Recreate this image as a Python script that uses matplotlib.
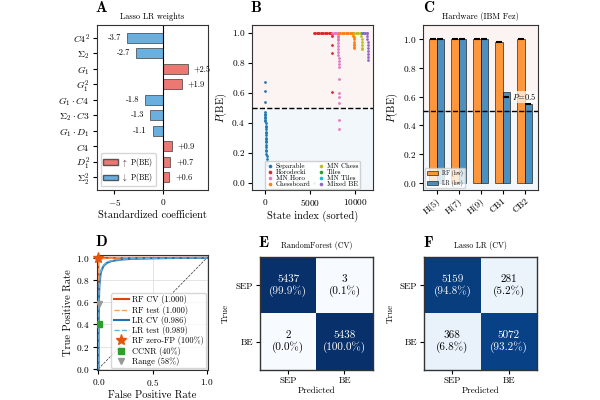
import matplotlib
matplotlib.use("Agg")
import matplotlib.pyplot as plt
from matplotlib.patches import Patch

# fonts: computer modern look
plt.rcParams['font.family'] = ['cmr10', 'DejaVu Serif']
plt.rcParams['mathtext.fontset'] = 'cm'
plt.rcParams['axes.formatter.use_mathtext'] = True
plt.rcParams['font.size'] = 7
plt.rcParams['xtick.labelsize'] = 6.7
plt.rcParams['ytick.labelsize'] = 6.7
plt.rcParams['xtick.major.size'] = 3
plt.rcParams['ytick.major.size'] = 3
plt.rcParams['xtick.major.pad'] = 2
plt.rcParams['ytick.major.pad'] = 2
plt.rcParams['axes.labelsize'] = 7.5
plt.rcParams['axes.labelpad'] = 2
plt.rcParams['axes.edgecolor'] = '0.2'

# ---- Panel A data: Lasso LR weights ----
features = [r"$C4^2$", r"$\Sigma_2$", r"$G_1$", r"$G_1^2$", r"$G_1\cdot C4$",
            r"$\Sigma_2\cdot C3$", r"$G_1\cdot D_1$", r"$C4$", r"$D_1^2$", r"$\Sigma_2^2$"]
coefs = [-3.72, -2.74, 2.54, 1.93, -1.82, -1.32, -1.08, 0.92, 0.74, 0.63]

# ---- Panel B data: sorted P(BE) per family ----
sep_x = [5, 10, 15, 20, 25, 30, 35, 40, 45, 50, 55, 60, 65, 70, 75, 80, 85, 90, 95, 100,
         110, 120, 130, 140, 150, 160, 170, 180, 190, 200, 400, 800, 1500, 2500, 3500, 4500, 5400]
sep_p = [0.67, 0.61, 0.54, 0.47, 0.46, 0.45, 0.44, 0.43, 0.42, 0.41, 0.40, 0.38, 0.37, 0.36,
         0.34, 0.33, 0.32, 0.30, 0.29, 0.28, 0.27, 0.25, 0.24, 0.22, 0.21, 0.19, 0.18, 0.16,
         0.14, 0.12, 0.08, 0.05, 0.03, 0.02, 0.01, 0.005, 0.0]
horo_x = [5440, 5590, 5740, 5890, 6040, 6190, 6340, 6490, 6640, 6790, 6940, 7090, 7240, 7360,
          7400, 7420, 7430, 7440, 7450]
horo_p = [1.0, 1.0, 1.0, 1.0, 1.0, 1.0, 1.0, 1.0, 1.0, 1.0, 1.0, 1.0, 1.0, 1.0,
          0.99, 0.98, 0.915, 0.864, 0.605]
mnhoro_x = [7460, 7610, 7760, 7910, 8060, 8100, 8110, 8120, 8125, 8130, 8135, 8140, 8145, 8150,
            8155, 8160, 8165, 8170, 8175, 8180, 8185, 8190, 8195, 8200, 8205, 8210]
mnhoro_p = [1.0, 1.0, 1.0, 1.0, 1.0, 0.995, 0.99, 0.98, 0.97, 0.96, 0.95, 0.93, 0.91, 0.89,
            0.87, 0.85, 0.83, 0.81, 0.79, 0.77, 0.69, 0.60, 0.57, 0.53, 0.42, 0.36]
chess_x = [8220, 8370, 8520, 8670, 8820, 8970, 9120, 9270, 9420, 9570, 9700,
           9760, 9800, 9830, 9850, 9865, 9875, 9885, 9890, 9895, 9900]
chess_p = [1.0, 1.0, 1.0, 1.0, 1.0, 1.0, 1.0, 1.0, 1.0, 1.0, 1.0,
           0.998, 0.99, 0.98, 0.97, 0.955, 0.94, 0.925, 0.915, 0.905, 0.90]
mnchess_x = [9910, 10060, 10210, 10360, 10510, 10640, 10690, 10710, 10720, 10730, 10735, 10740, 10745]
mnchess_p = [1.0, 1.0, 1.0, 1.0, 1.0, 1.0, 0.995, 0.98, 0.96, 0.94, 0.92, 0.90, 0.89]
tiles_x = [10760, 10790]
tiles_p = [1.0, 1.0]
mntiles_x = [10800, 10830]
mntiles_p = [1.0, 1.0]
mixed_x = [10850, 11000, 11150, 11300, 11350, 11370, 11385, 11395, 11405, 11410, 11415, 11420, 11425, 11430]
mixed_p = [1.0, 1.0, 1.0, 1.0, 0.995, 0.98, 0.96, 0.94, 0.92, 0.90, 0.88, 0.86, 0.84, 0.82]

# ---- Panel C data: hardware runs ----
hw_labels = ["H(5)", "H(7)", "H(9)", "CB1", "CB2"]
rf_hw = [1.0, 1.0, 1.0, 0.985, 1.0]
lr_hw = [1.0, 1.0, 1.0, 0.634, 0.547]
rf_sim = [1.0, 1.0, 1.0, 0.985, 1.0]
lr_sim = [1.0, 1.0, 1.0, 0.60, 0.55]

# ---- Panel D data: ROC curves ----
rf_cv_fpr = [0.0, 0.0, 0.002, 0.01, 0.03, 1.0]
rf_cv_tpr = [0.0, 0.97, 0.99, 0.998, 1.0, 1.0]
rf_te_fpr = [0.0, 0.0, 0.01, 0.04, 0.10, 0.15, 1.0]
rf_te_tpr = [0.0, 0.95, 0.975, 0.99, 0.997, 1.0, 1.0]
lr_cv_fpr = [0.0, 0.0, 0.005, 0.01, 0.02, 0.03, 0.05, 0.08, 0.12, 0.2, 0.3, 0.5, 0.7, 1.0]
lr_cv_tpr = [0.0, 0.30, 0.62, 0.76, 0.85, 0.89, 0.93, 0.955, 0.97, 0.983, 0.99, 0.995, 0.998, 1.0]
lr_te_fpr = [0.0, 0.0, 0.005, 0.01, 0.02, 0.03, 0.05, 0.08, 0.12, 0.2, 0.3, 0.5, 0.7, 1.0]
lr_te_tpr = [0.0, 0.32, 0.64, 0.78, 0.86, 0.90, 0.935, 0.96, 0.973, 0.985, 0.991, 0.996, 0.998, 1.0]

# ---- Panels E/F data: confusion matrices ----
cm_labels = ["SEP", "BE"]
cm_rf = [[5437, 3], [2, 5438]]
cm_lr = [[5159, 281], [368, 5072]]

RED = '#e8605a'
BLUE = '#4fa3dc'
PINK_BG = '#fcf3f3'
BLUE_BG = '#f2f7fc'

fig = plt.figure(figsize=(6, 4), dpi=100)


def panel_label(x_px, y_px, s):
    fig.text(x_px / 600, 1 - y_px / 400, s, fontsize=11, family=['cmb10', 'DejaVu Serif'],
             fontweight='bold', ha='left', va='center')


# ---------------- A ----------------
axA = fig.add_axes([0.1612, 0.525, 0.1855, 0.4125])
ypos = list(range(len(features)))
bar_cols = [RED if c > 0 else BLUE for c in coefs]
axA.barh(ypos, coefs, height=0.65, color=bar_cols, alpha=0.85, edgecolor='0.25', linewidth=0.6)
axA.axvline(0, color='k', lw=0.8)
for i, c in enumerate(coefs):
    if c > 0:
        axA.text(c + 0.6, i, f"{c:+.1f}", ha='left', va='center', fontsize=6)
    else:
        axA.text(c - 0.6, i, f"{c:+.1f}", ha='right', va='center', fontsize=6)
axA.set_yticks(ypos)
axA.set_yticklabels(features, fontsize=7)
axA.set_xticks([-5, 0])
axA.set_xlim(-6.8, 4.6)
axA.set_ylim(9.82, -0.82)
axA.set_xlabel("Standardized coefficient")
axA.set_title("Lasso LR weights", fontsize=6, pad=4)
axA.legend(handles=[Patch(facecolor=RED, alpha=0.85, edgecolor='0.25', label=r"$\uparrow$ P(BE)"),
                    Patch(facecolor=BLUE, alpha=0.85, edgecolor='0.25', label=r"$\downarrow$ P(BE)")],
           loc='lower left', fontsize=5.5, labelspacing=0.3, borderpad=0.3, handletextpad=0.4)
panel_label(95, 8, "A")

# ---------------- B ----------------
axB = fig.add_axes([0.42, 0.525, 0.2017, 0.4125])
axB.axhspan(0.5, 1.05, color=PINK_BG, zorder=0)
axB.axhspan(-0.05, 0.5, color=BLUE_BG, zorder=0)
groups = [(sep_x, sep_p, 'tab:blue', 'Separable'),
          (horo_x, horo_p, 'tab:red', 'Horodecki'),
          (mnhoro_x, mnhoro_p, 'tab:pink', 'MN Horo'),
          (chess_x, chess_p, 'tab:orange', 'Chessboard'),
          (mnchess_x, mnchess_p, 'tab:olive', 'MN Chess'),
          (tiles_x, tiles_p, 'tab:green', 'Tiles'),
          (mntiles_x, mntiles_p, 'tab:cyan', 'MN Tiles'),
          (mixed_x, mixed_p, 'tab:purple', 'Mixed BE')]
for gx, gp, col, lab in groups:
    axB.scatter(gx, gp, s=4, color=col, label=lab, linewidths=0, zorder=2)
axB.axhline(0.5, color='k', ls='--', lw=1.0, zorder=3)
axB.set_xlim(-1450, 12000)
axB.set_ylim(-0.05, 1.05)
axB.set_xticks([0, 5000, 10000])
axB.set_yticks([0.0, 0.2, 0.4, 0.6, 0.8, 1.0])
axB.set_xlabel("State index (sorted)")
axB.set_ylabel(r"$P$(BE)")
axB.legend(loc='lower center', ncol=2, fontsize=5, markerscale=1.3, handlelength=1,
           handletextpad=0.3, columnspacing=1.0, labelspacing=0.0, borderpad=0.3,
           borderaxespad=0.2, framealpha=0.9)
panel_label(250, 8, "B")

# ---------------- C ----------------
axC = fig.add_axes([0.7055, 0.525, 0.1907, 0.4125])
axC.axhspan(0.5, 1.10, color=PINK_BG, zorder=0)
axC.axhspan(-0.05, 0.5, color=BLUE_BG, zorder=0)
xc = list(range(len(hw_labels)))
w = 0.35
axC.bar([x - w / 2 for x in xc], rf_hw, width=w, color='tab:orange', alpha=0.8,
        edgecolor='k', linewidth=0.5, label='RF (hw)', zorder=2)
axC.bar([x + w / 2 for x in xc], lr_hw, width=w, color='tab:blue', alpha=0.8,
        edgecolor='k', linewidth=0.5, label='LR (hw)', zorder=2)
axC.plot([x - w / 2 for x in xc], rf_sim, ls='none', marker='_', ms=5, mew=1.5, color='k', zorder=3)
axC.plot([x + w / 2 for x in xc], lr_sim, ls='none', marker='_', ms=5, mew=1.5, color='k', zorder=3)
axC.axhline(0.5, color='k', ls='--', lw=1.0, zorder=3)
axC.text(4.55, 0.6, r"$P\!=\!0.5$", ha='right', va='center', fontsize=6, zorder=4,
         bbox=dict(facecolor='white', edgecolor='none', alpha=0.7, pad=0.5))
axC.set_xticks(xc)
axC.set_xticklabels(hw_labels, rotation=40, ha='right', rotation_mode='anchor')
axC.set_xlim(-0.6, 4.6)
axC.set_ylim(-0.05, 1.10)
axC.set_yticks([0.0, 0.2, 0.4, 0.6, 0.8, 1.0])
axC.set_ylabel(r"$P$(BE)")
axC.set_title("Hardware (IBM Fez)", fontsize=6, pad=4)
axC.legend(loc='lower left', fontsize=4, borderpad=0.3, borderaxespad=0.3)
panel_label(423, 8, "C")

# ---------------- D ----------------
axD = fig.add_axes([0.1612, 0.075, 0.1855, 0.2875])
axD.grid(True, color='0.85', lw=0.5)
axD.plot([0, 1], [0, 1], color='0.2', ls='--', lw=0.5)
axD.plot(rf_cv_fpr, rf_cv_tpr, color='#e0440e', lw=1.5, label='RF CV (1.000)')
axD.plot(rf_te_fpr, rf_te_tpr, color='#f5a05a', lw=1.0, ls='--', label='RF test (1.000)')
axD.plot(lr_cv_fpr, lr_cv_tpr, color='#1f72b8', lw=1.5, label='LR CV (0.986)')
axD.plot(lr_te_fpr, lr_te_tpr, color='#6baed6', lw=1.0, ls='--', label='LR test (0.989)')
axD.plot([0.0], [0.995], ls='none', marker='*', ms=8, color='#e6550d', label='RF zero-FP (100%)',
         clip_on=False, zorder=5)
axD.plot([0.005], [0.40], ls='none', marker='s', ms=5, color='#2ca02c', label='CCNR (40%)', zorder=5)
axD.plot([0.005], [0.58], ls='none', marker='v', ms=5, color='#999999', label='Range (58%)', zorder=5)
axD.set_xlim(-0.015, 1.01)
axD.set_ylim(-0.01, 1.025)
axD.set_xticks([0.0, 0.5, 1.0])
axD.set_yticks([0.0, 0.2, 0.4, 0.6, 0.8, 1.0])
axD.set_xlabel("False Positive Rate")
axD.set_ylabel("True Positive Rate")
axD.legend(loc='lower right', fontsize=6, labelspacing=0.15, borderpad=0.3, borderaxespad=0.2,
           handlelength=1.8, handletextpad=0.4)
panel_label(95, 242, "D")


# ---------------- E / F ----------------
def conf_panel(rect, counts, title, letter, lx):
    ax = fig.add_axes(rect)
    norm = [[v / sum(row) for v in row] for row in counts]
    ax.imshow(norm, cmap='Blues', vmin=0, vmax=1, aspect='auto')
    for i in range(2):
        for j in range(2):
            col = 'white' if norm[i][j] > 0.5 else 'black'
            ax.text(j, i, f"{counts[i][j]}\n({100 * norm[i][j]:.1f}%)", ha='center', va='center',
                    fontsize=8, color=col, linespacing=1.1)
    ax.set_xticks([0, 1])
    ax.set_yticks([0, 1])
    ax.set_xticklabels(cm_labels, fontsize=6.5)
    ax.set_yticklabels(cm_labels, fontsize=6.5)
    ax.set_xlabel("Predicted", fontsize=6.5, labelpad=1)
    ax.set_ylabel("True", fontsize=6.5, labelpad=4)
    ax.set_title(title, fontsize=5.7, pad=7)
    for sp in ax.spines.values():
        sp.set_linewidth(1.0)
    panel_label(lx, 243, letter)


conf_panel([0.4333, 0.075, 0.1878, 0.2817], cm_rf, "RandomForest (CV)", "E", 258)
conf_panel([0.7067, 0.075, 0.1888, 0.2817], cm_lr, "Lasso LR (CV)", "F", 423)

fig.savefig("out.png", dpi=100)
